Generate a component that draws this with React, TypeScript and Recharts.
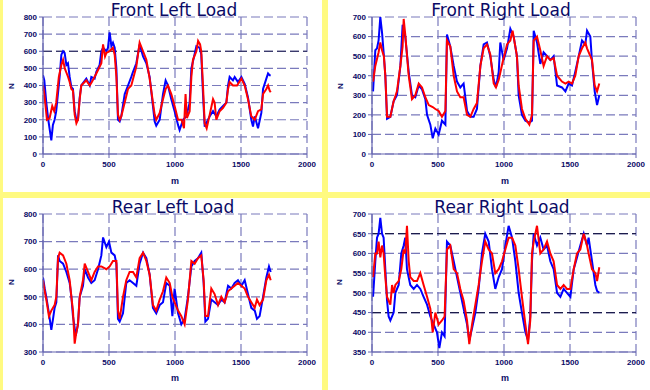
import React from 'react';
import { LineChart, Line, XAxis, YAxis, CartesianGrid, ReferenceLine } from 'recharts';

// distance ticks (m)
const xTicks = [0, 500, 1000, 1500, 2000];

// Front Left Load [m, N]
const flBlue = [[0,460],[10,430],[25,300],[40,200],[63,80],[75,170],[88,200],[100,250],[126,450],[139,580],[152,600],[164,590],[177,520],[189,530],[202,450],[215,390],[227,380],[240,250],[253,200],[265,200],[278,330],[290,400],[328,440],[354,400],[366,450],[391,440],[404,480],[429,520],[442,600],[455,620],[480,600],[492,620],[505,710],[518,630],[530,650],[543,620],[556,500],[568,200],[581,190],[593,220],[619,350],[644,400],[669,450],[682,480],[707,530],[732,640],[758,570],[783,530],[808,450],[833,280],[846,190],[858,165],[884,200],[909,350],[929,430],[947,400],[972,320],[997,250],[1023,170],[1035,140],[1061,200],[1086,220],[1111,300],[1124,500],[1136,540],[1162,630],[1187,620],[1199,580],[1212,350],[1225,160],[1237,180],[1263,220],[1288,250],[1313,220],[1338,260],[1364,280],[1389,300],[1402,400],[1414,450],[1439,430],[1452,450],[1477,420],[1503,450],[1528,410],[1553,330],[1578,200],[1591,160],[1604,220],[1629,150],[1654,240],[1667,380],[1692,440],[1705,470],[1717,460],[1725,460]];
const flRed = [[0,400],[10,350],[30,200],[50,210],[70,280],[85,250],[100,300],[120,450],[139,520],[152,550],[165,500],[180,470],[190,450],[202,420],[215,380],[227,370],[240,230],[253,180],[265,200],[278,320],[290,400],[328,430],[354,400],[370,420],[404,470],[442,530],[455,640],[470,570],[480,590],[505,600],[530,620],[543,580],[556,450],[568,230],[581,200],[593,220],[619,300],[644,380],[669,400],[707,510],[732,650],[758,600],[783,550],[808,440],[833,300],[846,230],[858,200],[884,240],[909,320],[929,380],[947,400],[972,350],[997,280],[1023,200],[1050,200],[1068,150],[1080,350],[1090,210],[1111,250],[1124,450],[1136,550],[1162,600],[1175,660],[1190,640],[1199,600],[1212,400],[1225,180],[1240,150],[1263,230],[1288,320],[1300,300],[1313,200],[1338,250],[1364,270],[1389,300],[1402,380],[1414,420],[1439,400],[1470,400],[1503,440],[1528,400],[1553,320],[1578,220],[1604,200],[1629,250],[1654,260],[1667,350],[1692,380],[1705,400],[1717,370],[1725,360]];

// Front Right Load [m, N]
const frBlue = [[8,320],[25,530],[38,540],[50,580],[63,700],[76,620],[88,520],[101,400],[114,180],[139,190],[164,270],[189,300],[215,450],[232,660],[252,600],[278,420],[303,300],[328,290],[354,350],[379,330],[404,280],[417,200],[442,150],[460,80],[480,130],[505,100],[530,170],[556,150],[568,610],[593,550],[619,450],[644,370],[669,340],[694,360],[720,220],[745,190],[770,190],[795,230],[821,450],[846,560],[871,570],[896,500],[922,380],[939,340],[960,420],[972,570],[997,480],[1023,540],[1048,640],[1073,600],[1098,500],[1111,300],[1136,200],[1162,170],[1192,160],[1212,170],[1225,630],[1250,570],[1275,460],[1300,520],[1326,500],[1351,480],[1376,500],[1402,350],[1439,340],[1465,320],[1490,360],[1515,350],[1540,420],[1566,500],[1591,580],[1616,560],[1629,630],[1654,600],[1667,470],[1687,320],[1705,250],[1722,300]];
const frRed = [[8,370],[25,450],[50,520],[63,570],[76,530],[90,500],[101,400],[114,190],[139,190],[164,270],[189,320],[215,450],[232,550],[240,690],[252,610],[278,400],[303,280],[328,300],[354,360],[379,340],[404,290],[430,250],[460,240],[480,230],[505,220],[530,190],[556,220],[568,580],[593,550],[619,400],[644,320],[669,290],[694,290],[720,200],[745,190],[770,230],[795,260],[821,450],[846,540],[871,560],[896,510],[922,360],[939,340],[960,380],[990,470],[1023,560],[1048,580],[1065,630],[1073,600],[1098,500],[1111,350],[1136,230],[1162,180],[1192,150],[1212,200],[1225,580],[1250,600],[1275,530],[1300,450],[1326,500],[1351,480],[1376,490],[1402,400],[1439,370],[1465,360],[1490,370],[1515,360],[1540,400],[1566,500],[1591,540],[1616,570],[1629,540],[1654,500],[1667,480],[1687,350],[1705,320],[1722,360]];

// Rear Left Load [m, N]
const rlBlue = [[0,570],[13,530],[25,500],[45,440],[63,380],[76,420],[88,460],[101,480],[114,650],[126,630],[152,620],[177,590],[202,550],[215,500],[227,430],[248,360],[265,400],[278,500],[303,540],[316,600],[341,570],[366,550],[391,560],[417,600],[442,650],[455,715],[480,680],[500,700],[518,660],[543,650],[556,620],[568,420],[581,410],[606,440],[631,550],[656,560],[682,550],[707,540],[732,620],[758,660],[783,640],[808,580],[833,460],[858,440],[884,470],[909,480],[934,550],[960,540],[980,430],[997,530],[1023,440],[1048,400],[1073,420],[1098,500],[1124,610],[1149,630],[1174,640],[1199,660],[1217,550],[1230,410],[1250,420],[1275,490],[1300,480],[1326,470],[1351,490],[1376,480],[1402,540],[1427,530],[1452,550],[1477,560],[1503,540],[1528,560],[1553,510],[1578,460],[1604,450],[1621,420],[1641,430],[1667,500],[1692,570],[1712,610],[1725,590]];
const rlRed = [[0,560],[13,520],[25,490],[45,430],[63,450],[88,470],[101,500],[114,640],[126,660],[152,650],[177,620],[202,560],[215,500],[227,450],[240,330],[252,370],[265,400],[278,500],[303,560],[316,620],[341,590],[366,560],[391,590],[417,610],[442,610],[480,600],[505,610],[530,630],[556,630],[568,450],[581,420],[606,500],[631,560],[656,590],[682,590],[707,570],[732,640],[758,660],[783,630],[808,580],[833,470],[858,450],[884,490],[909,520],[934,570],[960,550],[980,500],[997,480],[1023,450],[1048,430],[1073,400],[1098,490],[1124,630],[1149,620],[1174,640],[1199,650],[1217,560],[1230,430],[1250,430],[1275,530],[1300,510],[1326,470],[1351,500],[1376,480],[1402,520],[1427,530],[1452,540],[1477,550],[1503,540],[1528,530],[1553,500],[1578,480],[1604,460],[1621,490],[1641,470],[1667,490],[1692,560],[1712,580],[1725,560]];

// Rear Right Load [m, N]
const rrBlue = [[8,490],[25,580],[38,640],[50,650],[63,690],[76,650],[88,640],[101,560],[114,480],[126,440],[139,430],[164,450],[177,500],[202,520],[222,600],[240,620],[252,640],[265,560],[290,520],[316,510],[341,520],[366,510],[391,490],[417,470],[442,440],[467,420],[492,400],[510,360],[530,400],[550,390],[568,630],[593,620],[619,580],[644,540],[669,500],[694,460],[720,420],[737,380],[758,410],[783,450],[808,510],[833,600],[858,650],[884,630],[909,560],[934,510],[960,540],[985,560],[1010,620],[1035,670],[1061,640],[1086,580],[1111,500],[1136,450],[1162,400],[1182,380],[1199,440],[1212,580],[1225,650],[1250,620],[1275,640],[1300,610],[1326,620],[1351,580],[1376,560],[1402,500],[1427,490],[1452,510],[1477,500],[1503,490],[1528,560],[1553,590],[1578,620],[1604,650],[1629,620],[1641,640],[1667,580],[1692,520],[1705,505],[1722,500]];
const rrRed = [[8,540],[25,600],[38,600],[50,630],[63,590],[76,620],[88,600],[101,540],[114,490],[126,480],[139,470],[152,520],[164,500],[177,520],[202,530],[222,560],[240,610],[252,600],[265,670],[278,580],[290,540],[316,530],[341,530],[366,550],[391,520],[417,490],[442,460],[460,400],[480,450],[505,420],[530,430],[550,440],[568,610],[593,620],[619,560],[644,550],[669,510],[694,480],[720,430],[737,370],[758,420],[783,470],[808,520],[833,580],[858,630],[884,610],[909,600],[934,550],[960,560],[985,580],[1010,610],[1035,640],[1061,640],[1086,620],[1111,560],[1136,490],[1162,420],[1182,370],[1199,430],[1212,600],[1225,630],[1250,670],[1275,600],[1300,610],[1326,630],[1351,600],[1376,580],[1402,520],[1427,510],[1452,520],[1477,510],[1503,510],[1528,560],[1553,600],[1578,610],[1604,650],[1629,620],[1641,600],[1667,560],[1692,550],[1705,530],[1722,565]];

const flTicks = [0, 100, 200, 300, 400, 500, 600, 700, 800];
const frTicks = [0, 100, 200, 300, 400, 500, 600, 700];
const rlTicks = [300, 400, 500, 600, 700, 800];
const rrTicks = [350, 400, 450, 500, 550, 600, 650, 700];

const toPts = (arr: number[][]) => arr.map(([m, n]) => ({ m, n }));

const NAVY = '#0a0a66';
const GRID = '#7a7abc';
const AXIS = '#6464b0';
const YELLOW = '#fffa80';
const tickStyle = { fontFamily: '"Liberation Sans", Arial, sans-serif', fontSize: 8, fontWeight: 700, fill: NAVY };

type PanelProps = {
  title: string; left: number; top: number; titleTop: number;
  margin: { top: number; right: number; left: number; bottom: number };
  yTicks: number[]; blue: number[][]; red: number[][]; dark: number[];
  titleX: number; nX: number; mX: number; nY: number; mY: number;
};

function Panel(p: PanelProps) {
  const yDom = [p.yTicks[0], p.yTicks[p.yTicks.length - 1]];
  return (
    <>
      <div style={{ position: 'absolute', left: p.left, top: p.top, width: 322, height: 192 }}>
        <LineChart width={322} height={192} margin={p.margin}>
          <CartesianGrid stroke={GRID} strokeDasharray="9 4" strokeWidth={1.2} />
          <XAxis type="number" dataKey="m" domain={[0, 2000]} ticks={xTicks} interval={0}
            tick={tickStyle} tickSize={4} tickMargin={3} height={25}
            axisLine={{ stroke: AXIS, strokeWidth: 1.2 }} tickLine={{ stroke: AXIS }} allowDataOverflow />
          <YAxis type="number" dataKey="n" domain={yDom} ticks={p.yTicks} interval={0}
            tick={tickStyle} tickSize={4} tickMargin={2} width={30}
            axisLine={{ stroke: AXIS, strokeWidth: 1.2 }} tickLine={{ stroke: AXIS }} allowDataOverflow />
          {p.dark.map((d) => (
            <ReferenceLine key={d} y={d} stroke="#1c1c4c" strokeDasharray="9 4" strokeWidth={1.2} />
          ))}
          <Line data={toPts(p.blue)} dataKey="n" stroke="#0000ff" strokeWidth={2} dot={false}
            isAnimationActive={false} type="linear" />
          <Line data={toPts(p.red)} dataKey="n" stroke="#ff0000" strokeWidth={2} dot={false}
            isAnimationActive={false} type="linear" />
        </LineChart>
      </div>
      <div style={{ position: 'absolute', left: p.titleX - 100, top: p.titleTop, width: 200, textAlign: 'center',
        fontFamily: '"DejaVu Sans", Verdana, sans-serif', fontSize: 17, lineHeight: '20px', color: NAVY, whiteSpace: 'nowrap' }}>
        {p.title}
      </div>
      <div style={{ position: 'absolute', left: p.mX - 10, top: p.mY - 6, width: 20, textAlign: 'center',
        fontFamily: '"Liberation Sans", Arial, sans-serif', fontSize: 9, lineHeight: '12px', fontWeight: 700, color: NAVY }}>
        m
      </div>
      <div style={{ position: 'absolute', left: p.nX - 10, top: p.nY - 6, width: 20, textAlign: 'center',
        fontFamily: '"Liberation Sans", Arial, sans-serif', fontSize: 8, lineHeight: '12px', fontWeight: 700, color: NAVY,
        transform: 'rotate(-90deg)' }}>
        N
      </div>
    </>
  );
}

export default function App() {
  return (
    <div style={{ position: 'absolute', left: 0, top: 0, width: 650, height: 390, background: '#ffffff', overflow: 'hidden' }}>
      <div style={{ position: 'absolute', left: 0, top: 0, width: 3, height: 390, background: YELLOW }} />
      <div style={{ position: 'absolute', left: 322, top: 0, width: 6, height: 390, background: YELLOW }} />
      <div style={{ position: 'absolute', left: 0, top: 192, width: 650, height: 6, background: YELLOW }} />
      <Panel title="Front Left Load" left={0} top={0} titleTop={0} margin={{ top: 17, right: 15, left: 13, bottom: 13 }}
        yTicks={flTicks} blue={flBlue} red={flRed} dark={[600]} titleX={174} nX={12} nY={86} mX={175} mY={181} />
      <Panel title="Front Right Load" left={328} top={0} titleTop={0} margin={{ top: 17, right: 14, left: 14, bottom: 13 }}
        yTicks={frTicks} blue={frBlue} red={frRed} dark={[]} titleX={501} nX={341} nY={86} mX={505} mY={181} />
      <Panel title="Rear Left Load" left={0} top={198} titleTop={197} margin={{ top: 16, right: 15, left: 13, bottom: 13 }}
        yTicks={rlTicks} blue={rlBlue} red={rlRed} dark={[]} titleX={173} nX={12} nY={282} mX={175} mY={378} />
      <Panel title="Rear Right Load" left={328} top={198} titleTop={197} margin={{ top: 16, right: 14, left: 14, bottom: 13 }}
        yTicks={rrTicks} blue={rrBlue} red={rrRed} dark={[450, 650]} titleX={502} nX={340} nY={282} mX={505} mY={378} />
    </div>
  );
}
